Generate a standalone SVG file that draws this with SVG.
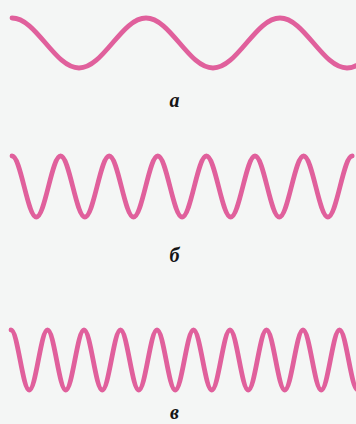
<svg xmlns="http://www.w3.org/2000/svg" width="356" height="424" viewBox="0 0 356 424">
<style>
.wave{fill:none;stroke:#e0609c;stroke-width:4.8;stroke-linecap:round;stroke-linejoin:round}
.lbl{font-family:"Liberation Serif","DejaVu Serif",serif;font-size:20px;font-weight:bold;font-style:italic;fill:#151515;text-anchor:middle}
</style>
<rect width="356" height="424" fill="#f4f6f5"/>
<g id="wave-a">
<path class="wave" d="M12,18 C36.35,18 54.65,68 79,68 S121.65,18 146,18 S188.65,68 213,68 S255.65,18 280,18 S322.65,68 347,68 S389.65,18 414,18"/>
<text class="lbl" x="174.5" y="106.5">a</text>
</g>
<g id="wave-b">
<path class="wave" d="M12,156 C20.83,156 27.47,217 36.3,217 S51.77,156 60.6,156 S76.07,217 84.9,217 S100.37,156 109.2,156 S124.67,217 133.5,217 S148.97,156 157.8,156 S173.27,217 182.1,217 S197.57,156 206.4,156 S221.87,217 230.7,217 S246.17,156 255,156 S270.47,217 279.3,217 S294.77,156 303.6,156 S319.07,217 327.9,217 S343.37,156 352.2,156"/>
<text class="lbl" x="174.5" y="261.5">б</text>
</g>
<g id="wave-v">
<path class="wave" d="M11,330 C17.63,330 22.62,390 29.25,390 S40.87,330 47.5,330 S59.12,390 65.75,390 S77.37,330 84,330 S95.62,390 102.25,390 S113.87,330 120.5,330 S132.12,390 138.75,390 S150.37,330 157,330 S168.62,390 175.25,390 S186.87,330 193.5,330 S205.12,390 211.75,390 S223.37,330 230,330 S241.62,390 248.25,390 S259.87,330 266.5,330 S278.12,390 284.75,390 S296.37,330 303,330 S314.62,390 321.25,390 S332.87,330 339.5,330 S351.12,390 357.75,390"/>
<text class="lbl" x="174.5" y="418.5">в</text>
</g>
</svg>
